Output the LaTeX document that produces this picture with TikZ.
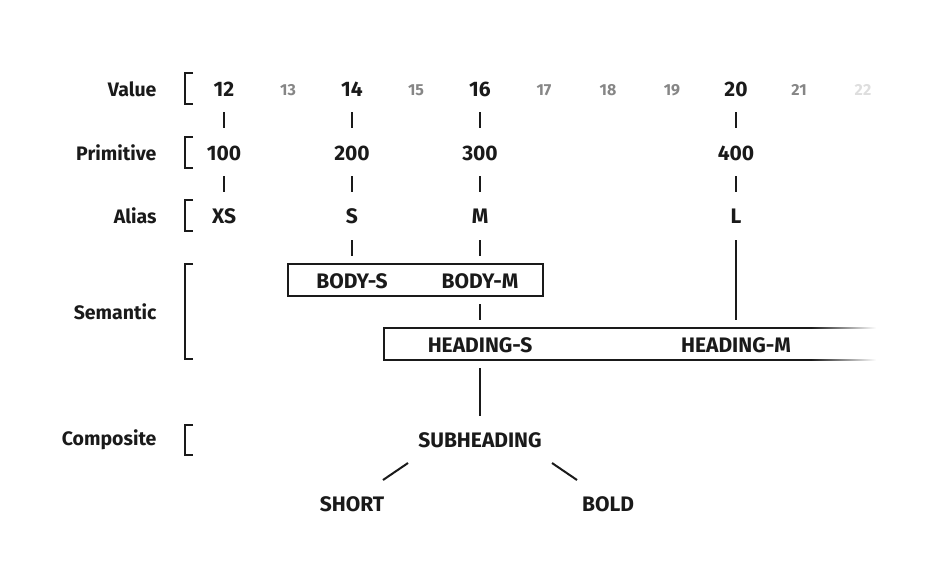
\documentclass[tikz,border=0pt]{standalone}
\usepackage{fontspec}
\setmainfont{Fira Sans}
\begin{document}
\begin{tikzpicture}[x=1pt,y=-1pt,
  lab/.style={anchor=east,font=\fontsize{19.5}{22}\selectfont\bfseries,text=ink},
  val/.style={font=\fontsize{21}{23}\selectfont\bfseries,text=ink,inner sep=0pt},
  dim/.style={font=\fontsize{16}{18}\selectfont\bfseries,text=gray!95,inner sep=0pt},
  faint/.style={font=\fontsize{16}{18}\selectfont\bfseries,text=black!13,inner sep=0pt},
  ln/.style={draw=ink,line width=2pt},
  brk/.style={draw=ink,line width=2pt},
  boxed/.style={draw=ink,line width=2pt,minimum height=32pt,inner sep=0pt}]
\definecolor{ink}{HTML}{1A1A1A}
\useasboundingbox (0,0) rectangle (928,576);
% row labels
\node[lab] (lvalue) at (160,89) {Value};
\node[lab] (lprim) at (160,153) {Primitive};
\node[lab] (lalias) at (160,216) {Alias};
\node[lab] (lsem) at (160,312) {Semantic};
\node[lab] (lcomp) at (160,440) {Composite};
% brackets
\draw[brk] (193,73) -- (185,73) -- (185,104) -- (193,104);
\draw[brk] (193,137) -- (185,137) -- (185,168) -- (193,168);
\draw[brk] (193,200) -- (185,200) -- (185,231) -- (193,231);
\draw[brk] (193,264) -- (185,264) -- (185,359) -- (193,359);
\draw[brk] (193,425) -- (185,425) -- (185,455) -- (193,455);
% values
\node[val] (v12) at (224,89) {12};
\node[dim] (v13) at (288,90) {13};
\node[val] (v14) at (352,89) {14};
\node[dim] (v15) at (416,90) {15};
\node[val] (v16) at (480,89) {16};
\node[dim] (v17) at (544,90) {17};
\node[dim] (v18) at (608,90) {18};
\node[dim] (v19) at (672,90) {19};
\node[val] (v20) at (736,89) {20};
\node[dim] (v21) at (799,90) {21};
\node[faint] (v22) at (863,90) {22};
% primitives
\node[val] (p100) at (224,153) {100};
\node[val] (p200) at (352,153) {200};
\node[val] (p300) at (480,153) {300};
\node[val] (p400) at (736,153) {400};
% aliases
\node[val] (axs) at (224,216) {XS};
\node[val] (as) at (352,216) {S};
\node[val] (am) at (480,216) {M};
\node[val] (al) at (736,216) {L};
% vertical ticks
\foreach \x in {224,352,480,736}{
  \draw[ln] (\x,112) -- (\x,128);
  \draw[ln] (\x,176) -- (\x,192);}
% semantic body box
\node[boxed,minimum width=255pt] (body) at (415.5,280) {};
\node[val] (bodys) at (352,281) {BODY-S};
\node[val] (bodym) at (480,281) {BODY-M};
\draw[ln] (352,240) -- (352,256);
\draw[ln] (480,240) -- (480,256);
\draw[ln] (480,304) -- (480,320);
\draw[ln] (736,240) -- (736,320);
% heading box with fading right end
\draw[ln] (811,328) -- (384,328) -- (384,360) -- (811,360);
\foreach \i in {0,...,64}{
  \pgfmathsetmacro{\pct}{100-\i*100/65}
  \draw[draw=ink!\pct!white,line width=2pt] (810.5+\i,328) -- (811.6+\i,328);
  \draw[draw=ink!\pct!white,line width=2pt] (810.5+\i,360) -- (811.6+\i,360);}
\node[val] (heads) at (480,345) {HEADING-S};
\node[val] (headm) at (736,345) {HEADING-M};
\draw[ln] (480,368) -- (480,416);
% composite
\node[val] (sub) at (480,440) {SUBHEADING};
\node[val] (short) at (352,504) {SHORT};
\node[val] (bold) at (608,504) {BOLD};
\draw[ln] (408,463) -- (383,480);
\draw[ln] (552,463) -- (577,480);
\end{tikzpicture}
\end{document}
